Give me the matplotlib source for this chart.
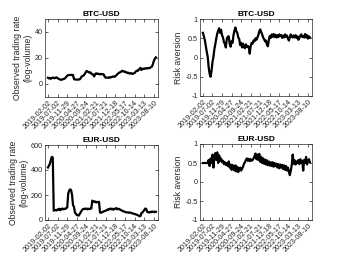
import numpy as np
import pandas as pd
import matplotlib
matplotlib.use("Agg")
import matplotlib.pyplot as plt
import matplotlib.dates as mdates

plt.rcParams['font.family'] = ['Liberation Sans', 'DejaVu Sans']

# ---- data (sampled every 15 days from 2019-02-02) ----
start_date = "2019-02-02"
step_days = 15

btc_volume = [
    4.8, 4.3, 4.6, 4.0, 4.5, 5.0, 4.7, 4.4, 4.9, 5.1,
    4.5, 4.0, 3.6, 3.4, 3.2, 3.5, 3.8, 4.0, 4.6, 5.5,
    6.4, 6.8, 7.0, 6.9, 7.1, 6.8, 7.0, 3.8, 3.4, 3.5,
    3.4, 3.3, 3.5, 3.6, 4.5, 5.8, 6.2, 6.5, 7.5, 8.8,
    10.0, 9.8, 9.2, 8.8, 9.0, 8.0, 7.5, 7.2, 5.8, 7.6,
    8.2, 7.8, 8.0, 7.6, 7.4, 7.8, 7.5, 7.6, 7.2, 5.5,
    4.8, 4.9, 5.0, 4.7, 5.2, 5.0, 5.4, 5.6, 5.8, 5.5,
    6.0, 6.8, 7.5, 8.2, 8.8, 9.0, 9.5, 10.2, 9.8, 9.4,
    9.6, 9.0, 8.6, 8.8, 8.2, 8.0, 8.4, 8.0, 7.8, 8.2,
    8.5, 9.5, 10.2, 10.0, 10.8, 11.6, 12.4, 10.8, 11.8, 11.5,
    12.0, 11.8, 12.2, 12.0, 12.3, 12.1, 12.5, 13.0, 13.5, 15.5,
    18.0, 19.5, 20.5,
]

btc_risk = [
    0.64, 0.55, 0.45, 0.30, 0.15, 0.02, -0.25, -0.42, -0.50, -0.35,
    -0.12, 0.02, 0.22, 0.35, 0.50, 0.62, 0.70, 0.76, 0.64, 0.72,
    0.58, 0.52, 0.40, 0.35, 0.26, 0.48, 0.54, 0.55, 0.36, 0.28,
    0.42, 0.38, 0.58, 0.70, 0.78, 0.68, 0.64, 0.52, 0.48, 0.32,
    0.38, 0.26, 0.36, 0.28, 0.24, 0.34, 0.28, 0.30, 0.26, 0.10,
    0.30, 0.38, 0.36, 0.44, 0.42, 0.50, 0.46, 0.52, 0.58, 0.68,
    0.73, 0.66, 0.60, 0.52, 0.48, 0.42, 0.44, 0.34, 0.29, 0.45,
    0.56, 0.51, 0.60, 0.54, 0.61, 0.53, 0.59, 0.52, 0.58, 0.53,
    0.60, 0.56, 0.58, 0.51, 0.57, 0.52, 0.60, 0.54, 0.57, 0.49,
    0.44, 0.53, 0.60, 0.54, 0.52, 0.57, 0.52, 0.58, 0.51, 0.55,
    0.46, 0.51, 0.57, 0.60, 0.53, 0.56, 0.52, 0.61, 0.52, 0.58,
    0.49, 0.55, 0.52,
]

eur_volume = [
    420, 435, 450, 480, 505, 500, 75, 78, 80, 76,
    85, 82, 90, 78, 88, 92, 85, 90, 88, 95,
    100, 210, 235, 245, 240, 200, 120, 105, 60, 50,
    40, 38, 35, 50, 62, 75, 85, 90, 88, 90,
    92, 85, 90, 88, 90, 92, 155, 150, 145, 148,
    140, 145, 142, 145, 60, 58, 62, 65, 70, 72,
    75, 78, 85, 82, 88, 92, 85, 90, 82, 88,
    92, 95, 85, 90, 88, 82, 78, 75, 70, 68,
    65, 62, 60, 62, 58, 60, 58, 55, 52, 50,
    48, 45, 42, 40, 35, 30, 32, 55, 60, 70,
    80, 92, 88, 65, 62, 60, 65, 62, 68, 66,
    62, 68, 65,
]

eur_risk = [
    0.50, 0.50, 0.50, 0.50, 0.50, 0.50, 0.58, 0.42, 0.62, 0.50,
    0.72, 0.38, 0.68, 0.76, 0.58, 0.78, 0.50, 0.70, 0.55, 0.62,
    0.52, 0.56, 0.47, 0.52, 0.45, 0.50, 0.42, 0.54, 0.38, 0.46,
    0.32, 0.45, 0.36, 0.30, 0.44, 0.28, 0.40, 0.26, 0.36, 0.38,
    0.30, 0.35, 0.40, 0.48, 0.52, 0.58, 0.62, 0.56, 0.61, 0.55,
    0.60, 0.56, 0.58, 0.62, 0.68, 0.75, 0.60, 0.72, 0.58, 0.74,
    0.53, 0.66, 0.50, 0.62, 0.48, 0.59, 0.46, 0.57, 0.44, 0.54,
    0.43, 0.52, 0.42, 0.52, 0.40, 0.50, 0.42, 0.48, 0.38, 0.47,
    0.36, 0.46, 0.38, 0.45, 0.34, 0.44, 0.32, 0.42, 0.30, 0.38,
    0.28, 0.18, 0.30, 0.45, 0.72, 0.48, 0.57, 0.46, 0.54, 0.50,
    0.58, 0.47, 0.60, 0.50, 0.56, 0.30, 0.58, 0.50, 0.66, 0.46,
    0.56, 0.60, 0.52,
]

tick_labels = ["2019-02-02", "2019-07-02", "2019-11-29", "2020-04-27",
               "2020-09-24", "2021-02-21", "2021-07-21", "2021-12-18",
               "2022-05-17", "2022-10-14", "2023-03-13", "2023-08-10"]

titles = ["BTC-USD", "BTC-USD", "EUR-USD", "EUR-USD"]
vol_label = "Observed trading rate\n(log-volume)"
risk_label = "Risk aversion"

dates = pd.date_range(start_date, periods=len(btc_volume), freq=f"{step_days}D")
tick_dates = pd.to_datetime(tick_labels)

W, H = 350, 263
fig = plt.figure(figsize=(W / 100, H / 100), dpi=100)

def rect(l, t, r, b):
    return [l / W, 1 - b / H, (r - l) / W, (b - t) / H]

axes_specs = [
    (rect(45, 19, 158, 97), btc_volume, (-10, 50), [0, 20, 40], vol_label),
    (rect(200, 19, 312, 96), btc_risk, (-1, 1), [-1, -0.5, 0, 0.5, 1], risk_label),
    (rect(45, 145, 158, 220), eur_volume, (0, 600), [0, 200, 400, 600], vol_label),
    (rect(200, 144, 312, 220), eur_risk, (-1, 1), [-1, -0.5, 0, 0.5, 1], risk_label),
]

gray = (0.15, 0.15, 0.15)
xlim = (pd.Timestamp("2018-12-18"), pd.Timestamp("2023-10-12"))

for (pos, series, ylim, yticks, ylab), title in zip(axes_specs, titles):
    ax = fig.add_axes(pos)
    ax.plot(dates, series, color="black", linewidth=1.6, solid_joinstyle="round")
    ax.set_xlim(*xlim)
    ax.set_ylim(*ylim)
    ax.set_yticks(yticks)
    ax.set_yticklabels([f"{v:g}" for v in yticks])
    ax.set_xticks(tick_dates)
    ax.set_xticklabels(tick_labels, rotation=45, ha="right", rotation_mode="anchor")
    ax.tick_params(direction="in", length=2, width=0.5, colors=gray,
                   labelsize=5.2, top=True, right=True, pad=1.5)
    for s in ax.spines.values():
        s.set_linewidth(0.5)
        s.set_color(gray)
    ax.set_title(title, fontsize=6, fontweight="bold", pad=2, color="black")
    ax.set_ylabel(ylab, fontsize=6.2, color=gray, labelpad=2, linespacing=1.1)

fig.savefig("out.png", dpi=100)
